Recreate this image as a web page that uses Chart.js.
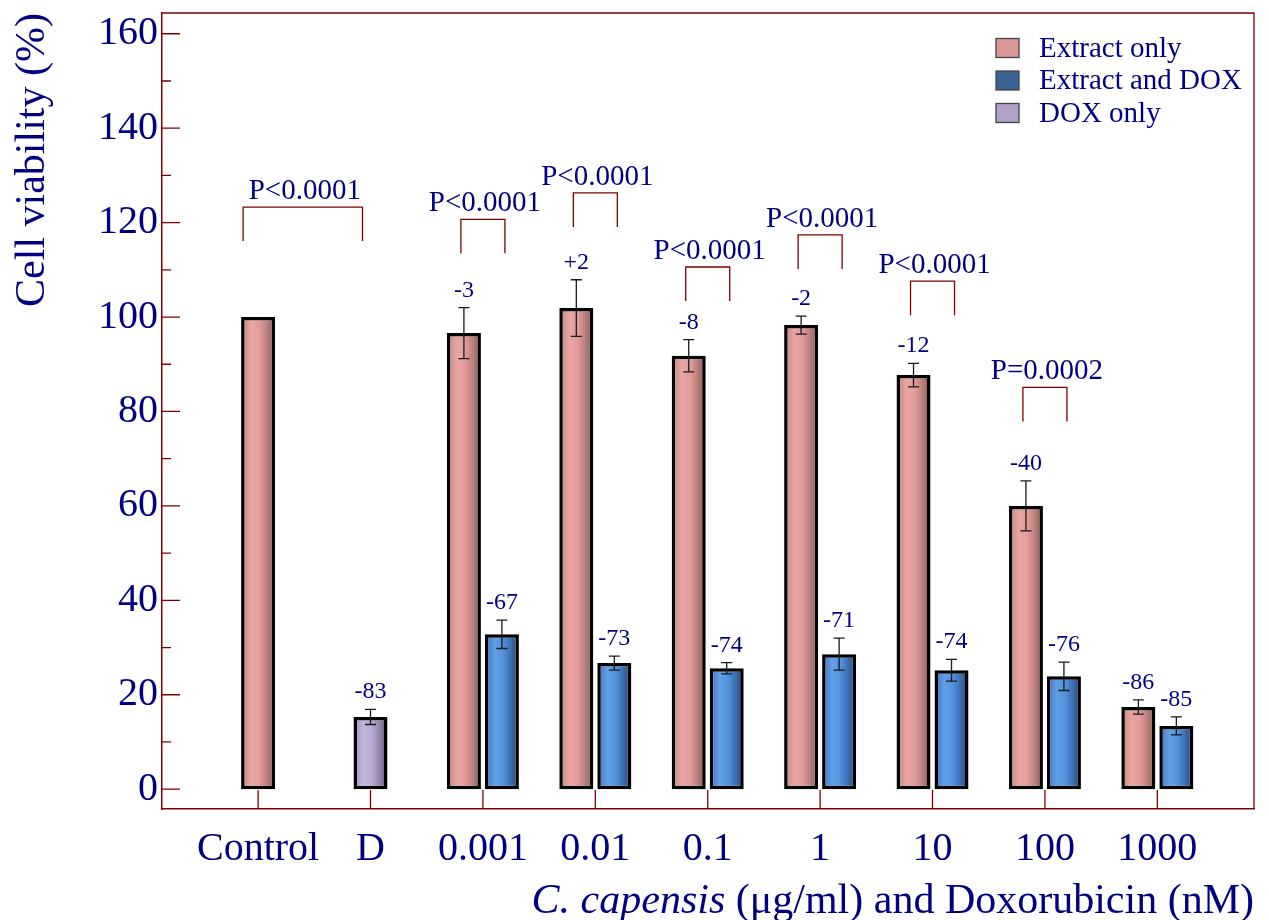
<!DOCTYPE html>
<html>
<head>
<meta charset="utf-8">
<script src="https://cdn.jsdelivr.net/npm/chart.js"></script>
<style>
  html, body { margin: 0; padding: 0; background: #fff; }
  #wrap { width: 1269px; height: 920px; position: relative; }
</style>
</head>
<body>
<div id="wrap"><canvas id="viabilityChart"></canvas></div>
<script>
const categories = ['Control', 'D', '0.001', '0.01', '0.1', '1', '10', '100', '1000'];

const extractOnly = [100, null, 96.6, 101.9, 91.8, 98.3, 87.7, 60.0, 17.4];
const extractOnlyErr = [0, null, 5.4, 6.0, 3.4, 1.9, 2.5, 5.3, 1.5];
const extractOnlyChange = [null, null, '-3', '+2', '-8', '-2', '-12', '-40', '-86'];

const extractDox = [null, null, 32.8, 26.7, 25.6, 28.6, 25.2, 23.9, 13.4];
const extractDoxErr = [null, null, 3.0, 1.5, 1.2, 3.4, 2.3, 3.0, 1.9];
const extractDoxChange = [null, null, '-67', '-73', '-74', '-71', '-74', '-76', '-85'];

const doxOnly = [null, 15.3, null, null, null, null, null, null, null];
const doxOnlyErr = [null, 1.6, null, null, null, null, null, null, null];
const doxOnlyChange = [null, '-83', null, null, null, null, null, null, null];

// significance brackets: category from/to, top of bracket (in %), text
const bracketFrom = [0, 2, 3, 4, 5, 6, 7];
const bracketTo = [1, 2, 3, 4, 5, 6, 7];
const bracketTop = [123.3, 120.7, 126.3, 110.6, 117.4, 107.6, 85.1];
const bracketText = ['P<0.0001', 'P<0.0001', 'P<0.0001', 'P<0.0001', 'P<0.0001', 'P<0.0001', 'P=0.0002'];

const yTicks = [0, 20, 40, 60, 80, 100, 120, 140, 160];

const NAVY = '#000080';
const MAROON = '#800000';
const SERIF = '"Liberation Serif", "Times New Roman", serif';

const legendColors = ['#d99694', '#3a6292', '#b3a2c7'];
const gradientStops = [
  ['#c08481', '#eaa6a3', '#e39b98', '#b27a77', '#7a5150'],
  ['#3f72b8', '#62a0e6', '#5290dc', '#3a68a6', '#23426c'],
  ['#9d90b6', '#c6b7de', '#b8a9d0', '#8c80a3', '#5c546c']
];

function toPoints(values) {
  return values.map((v, i) => ({ x: i, y: v }));
}

const annotationPlugin = {
  id: 'annotations',
  beforeDatasetsDraw(chart) {
    chart.data.datasets.forEach((ds, di) => {
      const meta = chart.getDatasetMeta(di);
      meta.data.forEach(bar => {
        if (bar.x == null || isNaN(bar.y)) return;
        const half = bar.width / 2;
        const g = chart.ctx.createLinearGradient(bar.x - half, 0, bar.x + half, 0);
        const stops = gradientStops[di];
        [0, 0.3, 0.55, 0.8, 1].forEach((p, k) => g.addColorStop(p, stops[k]));
        bar.options = Object.assign({}, bar.options, { backgroundColor: g });
      });
    });
  },
  afterDatasetsDraw(chart) {
    const ctx = chart.ctx;
    const x = chart.scales.x;
    const y = chart.scales.y;
    const errs = [extractOnlyErr, extractDoxErr, doxOnlyErr];
    const changes = [extractOnlyChange, extractDoxChange, doxOnlyChange];

    ctx.save();
    chart.data.datasets.forEach((ds, di) => {
      const meta = chart.getDatasetMeta(di);
      meta.data.forEach((bar, i) => {
        const v = ds.data[i].y;
        if (v == null) return;
        const err = errs[di][i] || 0;
        const top = y.getPixelForValue(v + err);
        if (err > 0) {
          const bot = y.getPixelForValue(v - err);
          ctx.strokeStyle = '#1a1a1a';
          ctx.lineWidth = 1.3;
          ctx.beginPath();
          ctx.moveTo(bar.x, top); ctx.lineTo(bar.x, bot);
          ctx.moveTo(bar.x - 5.5, top); ctx.lineTo(bar.x + 5.5, top);
          ctx.moveTo(bar.x - 5.5, bot); ctx.lineTo(bar.x + 5.5, bot);
          ctx.stroke();
        }
        const label = changes[di][i];
        if (label) {
          ctx.fillStyle = NAVY;
          ctx.font = '24px ' + SERIF;
          ctx.textAlign = 'center';
          ctx.textBaseline = 'alphabetic';
          ctx.fillText(label, bar.x, top - 11);
        }
      });
    });

    // brackets
    ctx.strokeStyle = MAROON;
    ctx.lineWidth = 1.3;
    bracketTop.forEach((t, k) => {
      let x0, x1;
      if (bracketFrom[k] === bracketTo[k]) {
        const c = x.getPixelForValue(bracketFrom[k]);
        x0 = c - 22; x1 = c + 22;
      } else {
        x0 = x.getPixelForValue(bracketFrom[k]) - 15;
        x1 = x.getPixelForValue(bracketTo[k]) - 8;
      }
      const yt = y.getPixelForValue(t);
      const yb = yt + 34;
      ctx.beginPath();
      ctx.moveTo(x0, yb); ctx.lineTo(x0, yt); ctx.lineTo(x1, yt); ctx.lineTo(x1, yb);
      ctx.stroke();
      ctx.fillStyle = NAVY;
      ctx.font = '29px ' + SERIF;
      ctx.textAlign = 'center';
      ctx.textBaseline = 'alphabetic';
      ctx.fillText(bracketText[k], (x0 + x1) / 2 + 2, yt - 8);
    });
    ctx.restore();
  },
  afterDraw(chart) {
    const ctx = chart.ctx;
    const area = chart.chartArea;
    const x = chart.scales.x;
    const y = chart.scales.y;
    ctx.save();
    ctx.strokeStyle = MAROON;
    ctx.lineWidth = 1.3;
    ctx.beginPath();
    // top and right frame
    ctx.moveTo(area.left, area.top); ctx.lineTo(area.right, area.top); ctx.lineTo(area.right, area.bottom);
    // inner tick marks
    y.ticks.forEach(t => {
      const py = y.getPixelForValue(t.value);
      const len = t.value % 20 === 0 ? 18 : 9;
      ctx.moveTo(area.left, py); ctx.lineTo(area.left + len, py);
    });
    x.ticks.forEach(t => {
      const px = x.getPixelForValue(t.value);
      ctx.moveTo(px, area.bottom); ctx.lineTo(px, area.bottom - 19);
    });
    ctx.stroke();

    // legend
    ctx.font = '29px ' + SERIF;
    ctx.textAlign = 'left';
    ctx.textBaseline = 'middle';
    chart.data.datasets.forEach((ds, di) => {
      const cy = 48 + di * 32.5;
      ctx.fillStyle = legendColors[di];
      ctx.fillRect(996, cy - 9.5, 23, 19);
      ctx.strokeStyle = '#444';
      ctx.lineWidth = 1.3;
      ctx.strokeRect(996, cy - 9.5, 23, 19);
      ctx.fillStyle = NAVY;
      ctx.fillText(ds.label, 1039, cy + 1);
    });

    // x axis title with italic species name
    const italicPart = 'C. capensis';
    const plainPart = ' (\u03bcg/ml) and Doxorubicin (nM)';
    ctx.textBaseline = 'alphabetic';
    ctx.font = '42px ' + SERIF;
    const wPlain = ctx.measureText(plainPart).width;
    ctx.font = 'italic 42px ' + SERIF;
    const wItalic = ctx.measureText(italicPart).width;
    const startX = area.right - wPlain - wItalic;
    ctx.fillStyle = NAVY;
    ctx.fillText(italicPart, startX, 913);
    ctx.font = '42px ' + SERIF;
    ctx.fillText(plainPart, startX + wItalic, 913);
    ctx.restore();
  }
};

const barCommon = {
  borderColor: '#000',
  borderWidth: 3.5,
  borderSkipped: false,
  skipNull: true,
  categoryPercentage: 0.676,
  barPercentage: 1,
  maxBarThickness: 34
};

const ctx = document.getElementById('viabilityChart').getContext('2d');
const chart = new Chart(ctx, {
  type: 'bar',
  data: {
    datasets: [
      Object.assign({ label: 'Extract only', data: toPoints(extractOnly), backgroundColor: legendColors[0] }, barCommon),
      Object.assign({ label: 'Extract and DOX', data: toPoints(extractDox), backgroundColor: legendColors[1] }, barCommon),
      Object.assign({ label: 'DOX only', data: toPoints(doxOnly), backgroundColor: legendColors[2] }, barCommon)
    ]
  },
  options: {
    responsive: true,
    maintainAspectRatio: false,
    animation: false,
    layout: { padding: { top: 13, right: 15, left: 0, bottom: 0 } },
    plugins: {
      legend: { display: false },
      tooltip: { enabled: false }
    },
    scales: {
      x: {
        type: 'linear',
        offset: false,
        min: -0.855,
        max: 8.86,
        grid: { display: false },
        border: { display: true, color: MAROON, width: 1.5 },
        ticks: {
          stepSize: 1,
          includeBounds: false,
          autoSkip: false,
          maxRotation: 0,
          padding: 8,
          color: NAVY,
          font: { family: SERIF, size: 40 },
          callback: v => categories[v] !== undefined ? categories[v] : ''
        },
        afterFit: scale => {
          scale.height = 111;
          scale.paddingLeft = 0;
          scale.paddingRight = 0;
        }
      },
      y: {
        type: 'linear',
        min: -4.2,
        max: 164.4,
        grid: { display: false, drawTicks: false },
        border: { display: true, color: MAROON, width: 1.5 },
        ticks: {
          stepSize: 10,
          includeBounds: false,
          autoSkip: false,
          padding: 4,
          color: NAVY,
          font: { family: SERIF, size: 40 },
          callback: v => yTicks.includes(v) ? String(v) : ''
        },
        title: {
          display: true,
          text: 'Cell viability (%)',
          align: 'end',
          color: NAVY,
          font: { family: SERIF, size: 42 },
          padding: { top: 8, bottom: 0 }
        },
        afterFit: scale => {
          scale.width = 162;
          scale.paddingTop = 0;
          scale.paddingBottom = 0;
        }
      }
    }
  },
  plugins: [annotationPlugin]
});
</script>
</body>
</html>
